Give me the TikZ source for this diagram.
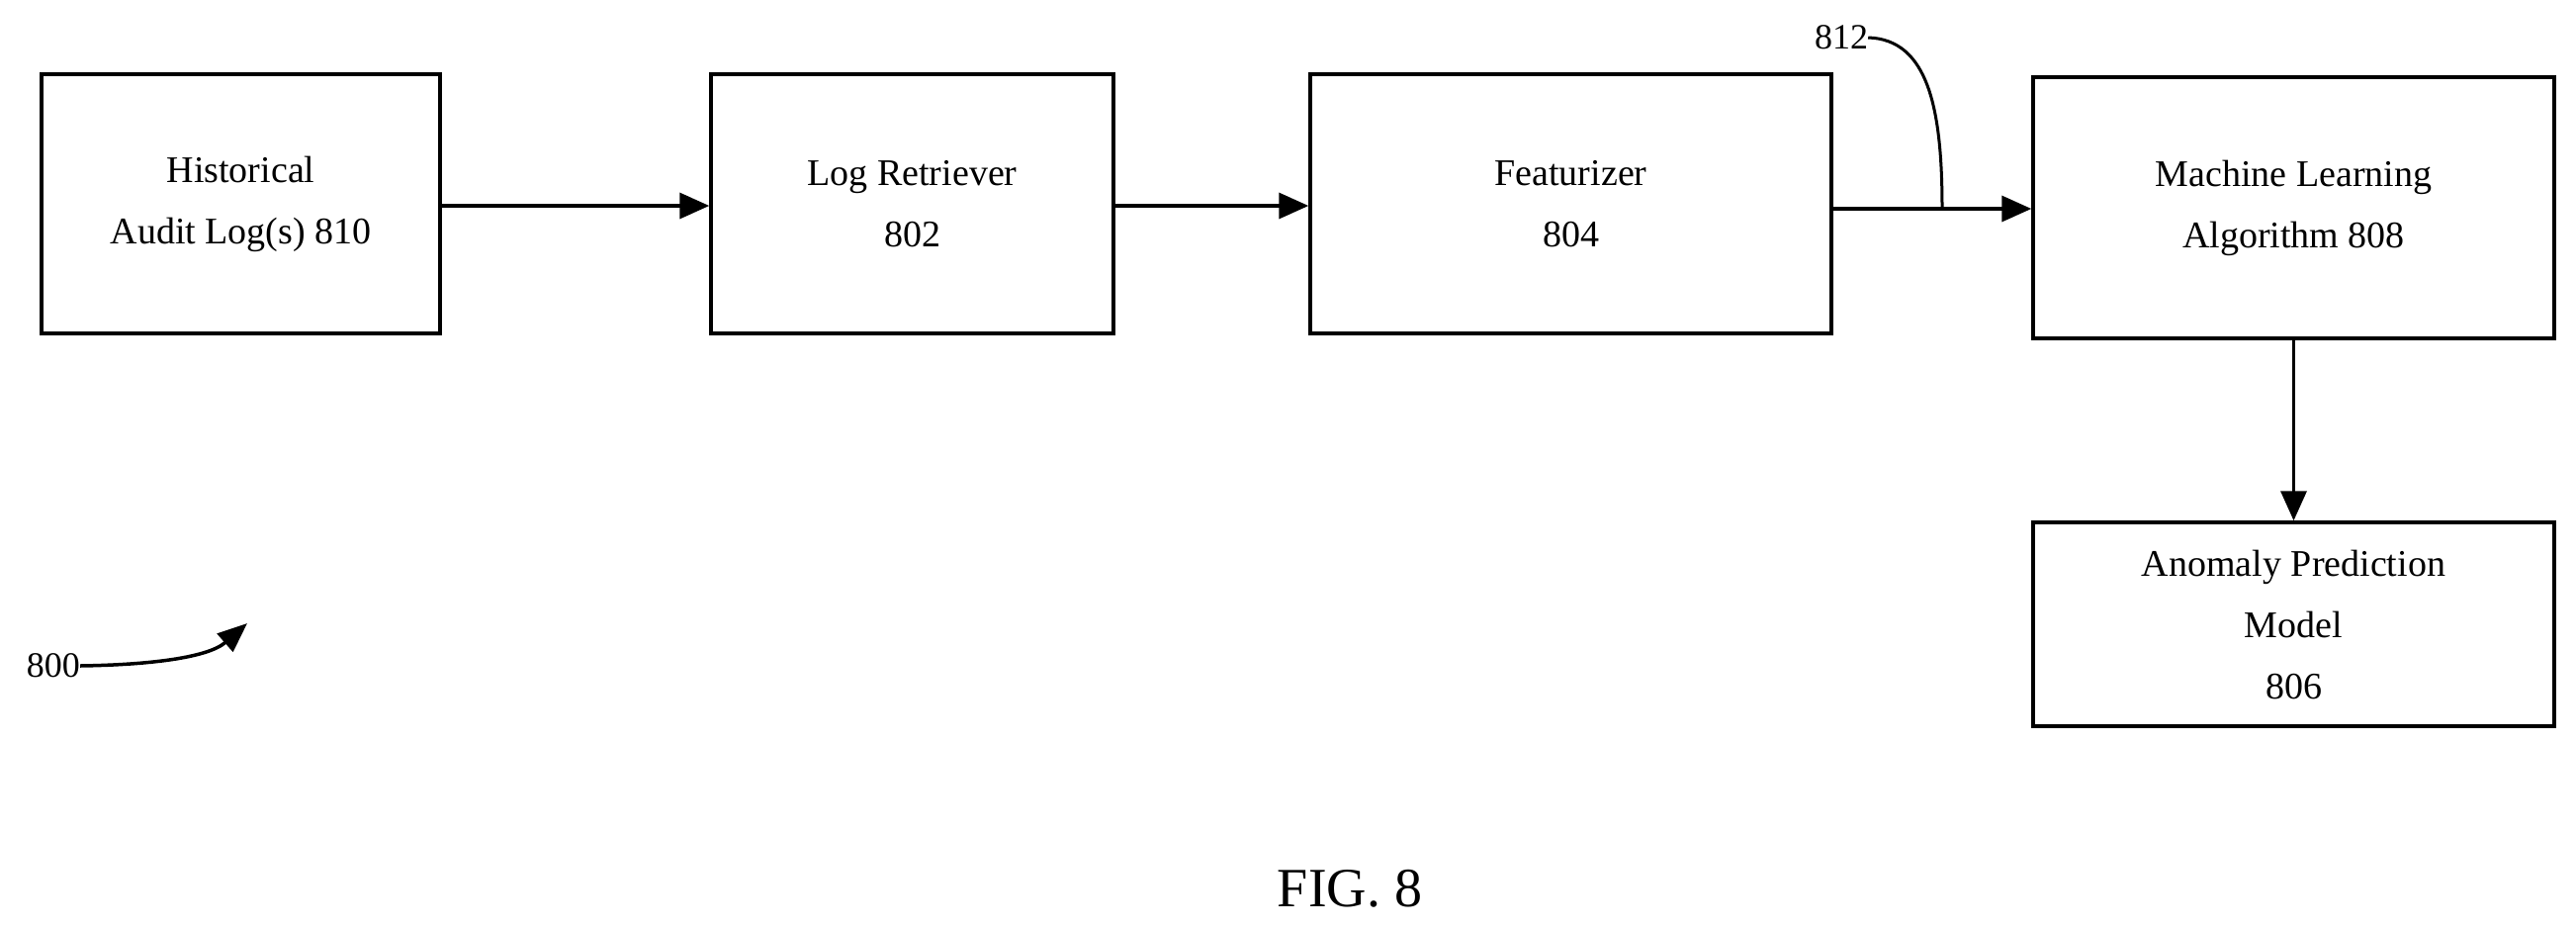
\documentclass[tikz,border=0pt]{standalone}
\usepackage{fontspec}
\setmainfont{Liberation Serif}
\usetikzlibrary{arrows.meta}
\begin{document}
\begin{tikzpicture}[x=1pt,y=-1pt,
  box/.style={draw,line width=3.5pt,minimum width=#1,align=center,font=\fontsize{38}{62}\selectfont,inner sep=0pt},
  arr/.style={line width=3.5pt,-{Triangle[length=30pt,width=26pt]}},
  lbl/.style={font=\fontsize{36}{40}\selectfont,inner sep=0pt}]
\useasboundingbox (0,0) rectangle (2605,938);
\node[box=403pt,minimum height=262pt] (b1) at (243.5,206) {Historical\\Audit Log(s) 810};
\node[box=407pt,minimum height=262pt] (b2) at (922.5,206) {Log Retriever\\802};
\node[box=527pt,minimum height=262pt] (b3) at (1588.5,206) {Featurizer\\804};
\node[box=527pt,minimum height=264pt] (b4) at (2319.5,210) {Machine Learning\\Algorithm 808};
\node[box=527pt,minimum height=206pt] (b5) at (2319.5,631) {Anomaly Prediction\\Model\\806};
\draw[arr] (b1.east |- 0,208) -- (b2.west |- 0,208);
\draw[arr] (b2.east |- 0,208) -- (b3.west |- 0,208);
\draw[arr] (b3.east |- 0,211) -- (b4.west |- 0,211);
\draw[arr] (b4.south) -- (b5.north);
\node[lbl] (n812) at (1862,38) {812};
\coordinate (c812) at (1964,211);
\draw[line width=3pt] (n812.east) .. controls (1950,40) and (1964,110) .. (c812);
\node[lbl] (n800) at (54,673) {800};
\coordinate (c800) at (250,630);
\draw[line width=3.5pt,-{Triangle[length=30pt,width=24pt]}] (n800.east) .. controls (150,672) and (210,665) .. (c800);
\node[font=\fontsize{56}{60}\selectfont] (fig) at (1365,898) {FIG. 8};
\end{tikzpicture}
\end{document}
